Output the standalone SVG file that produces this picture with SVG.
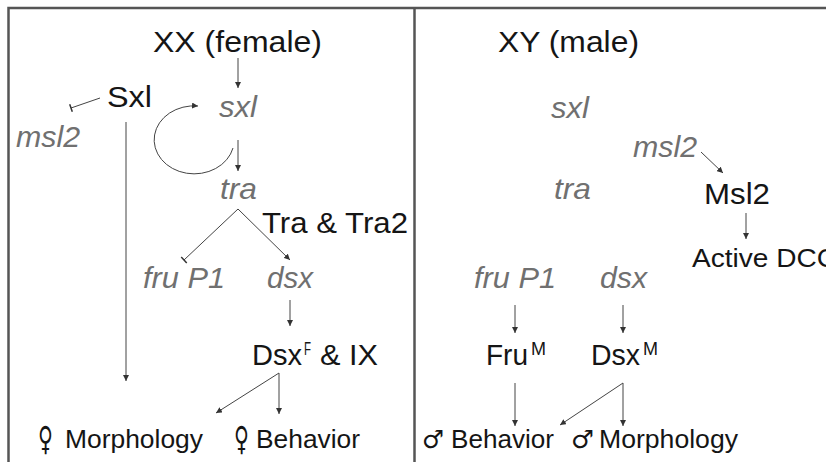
<svg xmlns="http://www.w3.org/2000/svg" width="826" height="462" viewBox="0 0 826 462">
  <style>
    .frame { stroke: #555; stroke-width: 2.5; fill: none; }
    .link { stroke: #444; stroke-width: 1; fill: none; }
    .arrow { marker-end: url(#head); }
    .block { marker-end: url(#bar); }
    .prot { font-family: "Liberation Sans", Arial, sans-serif; fill: #151515; }
    .gene { font-family: "Liberation Sans", Arial, sans-serif; font-style: italic; fill: #707070; }
    .big { font-size: 30px; }
    .mid { font-size: 25px; }
    .sup { font-size: 18px; }
    .sym { font-family: "DejaVu Sans", sans-serif; fill: #151515; }
    .venus { font-size: 33px; }
    .mars { font-size: 25px; }
  </style>
  <defs>
    <marker id="head" markerUnits="userSpaceOnUse" markerWidth="7" markerHeight="6" refX="6" refY="3" orient="auto">
      <path d="M0,0 L6,3 L0,6 z" fill="#333"/>
    </marker>
    <marker id="bar" markerUnits="userSpaceOnUse" markerWidth="3" markerHeight="9" refX="1" refY="4.5" orient="auto">
      <line x1="1" y1="0.5" x2="1" y2="8.5" stroke="#333" stroke-width="1.5"/>
    </marker>
  </defs>

  <rect width="826" height="462" fill="#fff"/>

  <!-- panel frame -->
  <g id="frame">
    <path class="frame" d="M8.5 462 L8.5 8 L826 8"/>
    <path class="frame" d="M414.5 8 L414.5 462"/>
  </g>

  <!-- connectors -->
  <g id="connectors">
    <path class="link arrow" d="M238 58 L238 88"/>
    <path class="link block" d="M100 98 L71 108"/>
    <path class="link arrow" d="M126 122 L126 381"/>
    <path class="link arrow" d="M233 148 A 40 34 0 1 1 198 106"/>
    <path class="link arrow" d="M238 140 L238 171"/>
    <path class="link block" d="M238 209 L184 260"/>
    <path class="link arrow" d="M238 209 L290 260"/>
    <path class="link arrow" d="M290 300 L290 326"/>
    <path class="link arrow" d="M279 373 L216 413"/>
    <path class="link arrow" d="M279 373 L279 414"/>

    <path class="link arrow" d="M701 152 L723 173"/>
    <path class="link arrow" d="M746 213 L746 239"/>
    <path class="link arrow" d="M515 305 L515 333"/>
    <path class="link arrow" d="M623 305 L623 333"/>
    <path class="link arrow" d="M515 383 L515 426"/>
    <path class="link arrow" d="M623 383 L560 425"/>
    <path class="link arrow" d="M623 383 L623 426"/>
  </g>

  <!-- female side -->
  <g id="xx-title"><text class="prot big" x="153" y="52" textLength="169" lengthAdjust="spacingAndGlyphs">XX (female)</text></g>
  <g id="Sxl-protein"><text class="prot big" x="107" y="107" textLength="45" lengthAdjust="spacingAndGlyphs">Sxl</text></g>
  <g id="sxl-gene-f"><text class="gene big" x="219" y="117" textLength="38" lengthAdjust="spacingAndGlyphs">sxl</text></g>
  <g id="msl2-gene-f"><text class="gene big" x="16" y="147" textLength="64" lengthAdjust="spacingAndGlyphs">msl2</text></g>
  <g id="tra-gene-f"><text class="gene big" x="220" y="199" textLength="37" lengthAdjust="spacingAndGlyphs">tra</text></g>
  <g id="tra-tra2"><text class="prot big" x="262" y="233" textLength="146" lengthAdjust="spacingAndGlyphs">Tra &amp; Tra2</text></g>
  <g id="fru-gene-f"><text class="gene big" x="143" y="288" textLength="82" lengthAdjust="spacingAndGlyphs">fru P1</text></g>
  <g id="dsx-gene-f"><text class="gene big" x="267" y="288" textLength="46" lengthAdjust="spacingAndGlyphs">dsx</text></g>
  <g id="dsxF-ix">
    <text class="prot big" x="252" y="365" textLength="50" lengthAdjust="spacingAndGlyphs">Dsx</text>
    <text class="prot sup" x="304" y="355" textLength="7" lengthAdjust="spacingAndGlyphs">F</text>
    <text class="prot big" x="320" y="365" textLength="58" lengthAdjust="spacingAndGlyphs">&amp; IX</text>
  </g>
  <g id="female-morphology">
    <text class="sym venus" x="38" y="450" textLength="15" lengthAdjust="spacingAndGlyphs">♀</text>
    <text class="prot mid" x="65" y="448" textLength="138" lengthAdjust="spacingAndGlyphs">Morphology</text>
  </g>
  <g id="female-behavior">
    <text class="sym venus" x="234" y="450" textLength="15" lengthAdjust="spacingAndGlyphs">♀</text>
    <text class="prot mid" x="256" y="448" textLength="104" lengthAdjust="spacingAndGlyphs">Behavior</text>
  </g>

  <!-- male side -->
  <g id="xy-title"><text class="prot big" x="498" y="52" textLength="141" lengthAdjust="spacingAndGlyphs">XY (male)</text></g>
  <g id="sxl-gene-m"><text class="gene big" x="551" y="118" textLength="38" lengthAdjust="spacingAndGlyphs">sxl</text></g>
  <g id="msl2-gene-m"><text class="gene big" x="633" y="157" textLength="64" lengthAdjust="spacingAndGlyphs">msl2</text></g>
  <g id="tra-gene-m"><text class="gene big" x="554" y="199" textLength="37" lengthAdjust="spacingAndGlyphs">tra</text></g>
  <g id="Msl2-protein"><text class="prot big" x="704" y="204" textLength="66" lengthAdjust="spacingAndGlyphs">Msl2</text></g>
  <g id="active-dcc"><text class="prot mid" x="692" y="267" textLength="145" lengthAdjust="spacingAndGlyphs">Active DCC</text></g>
  <g id="fru-gene-m"><text class="gene big" x="474" y="288" textLength="82" lengthAdjust="spacingAndGlyphs">fru P1</text></g>
  <g id="dsx-gene-m"><text class="gene big" x="600" y="288" textLength="47" lengthAdjust="spacingAndGlyphs">dsx</text></g>
  <g id="fruM">
    <text class="prot big" x="486" y="365" textLength="42" lengthAdjust="spacingAndGlyphs">Fru</text>
    <text class="prot sup" x="531" y="355" textLength="15" lengthAdjust="spacingAndGlyphs">M</text>
  </g>
  <g id="dsxM">
    <text class="prot big" x="591" y="365" textLength="49" lengthAdjust="spacingAndGlyphs">Dsx</text>
    <text class="prot sup" x="643" y="355" textLength="15" lengthAdjust="spacingAndGlyphs">M</text>
  </g>
  <g id="male-behavior">
    <text class="sym mars" x="422" y="448" textLength="22" lengthAdjust="spacingAndGlyphs">♂</text>
    <text class="prot mid" x="451" y="448" textLength="103" lengthAdjust="spacingAndGlyphs">Behavior</text>
  </g>
  <g id="male-morphology">
    <text class="sym mars" x="571" y="448" textLength="23" lengthAdjust="spacingAndGlyphs">♂</text>
    <text class="prot mid" x="599" y="448" textLength="139" lengthAdjust="spacingAndGlyphs">Morphology</text>
  </g>
</svg>
